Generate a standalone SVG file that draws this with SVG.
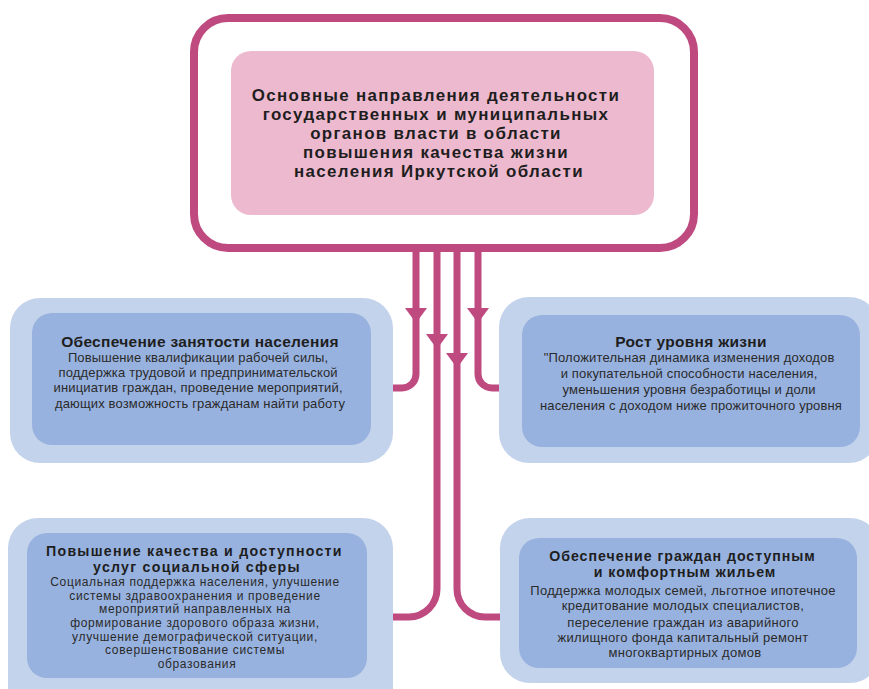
<svg xmlns="http://www.w3.org/2000/svg" xmlns:xlink="http://www.w3.org/1999/xlink" width="869" height="689" viewBox="0 0 869 689">
<defs>
<style>
.outer{fill:#C4D3EC}
.inner{fill:#98B2DF}
.ttl{font-family:"Liberation Sans",Arial,sans-serif;font-weight:bold;fill:#1E1E1E;text-anchor:middle}
.body{font-family:"Liberation Sans",Arial,sans-serif;font-size:13px;letter-spacing:0.15px;fill:#2A2A2A;text-anchor:middle}
.conn{fill:none;stroke:#BE4A80;stroke-width:7}
.ah{fill:#BE4A80}
</style>
<path id="ah" d="M-11,0 L11,0 L0,15 Z"/>
</defs>
<rect width="869" height="689" fill="#FFFFFF"/>
<g id="main">
<rect x="194" y="18" width="500" height="230" rx="34" fill="#FFFFFF" stroke="#BE4A80" stroke-width="8"/>
<rect x="231" y="51" width="423" height="164" rx="20" fill="#EDB9CF"/>
<text class="ttl" font-size="16.9" letter-spacing="1.35">
<tspan x="439" y="101">Основные направления деятельности</tspan>
<tspan x="439" y="120">государственных и муниципальных</tspan>
<tspan x="439" y="139">органов власти в области</tspan>
<tspan x="439" y="158">повышения качества жизни</tspan>
<tspan x="439" y="177">населения Иркутской области</tspan>
</text>
</g>
<g id="connectors">
<path class="conn" d="M416,248 V374 A14,14 0 0 1 402,388 H393"/>
<path class="conn" d="M437,248 V589 A28,28 0 0 1 409,617 H392"/>
<path class="conn" d="M457,248 V589 A28,28 0 0 0 485,617 H501"/>
<path class="conn" d="M478,248 V374 A14,14 0 0 0 492,388 H500"/>
<use xlink:href="#ah" class="ah" x="416" y="308"/>
<use xlink:href="#ah" class="ah" x="437" y="334"/>
<use xlink:href="#ah" class="ah" x="457" y="353"/>
<use xlink:href="#ah" class="ah" x="478" y="308"/>
</g>
<g id="employment">
<rect class="outer" x="10" y="298" width="383" height="165" rx="30"/>
<rect class="inner" x="32" y="313" width="339" height="132" rx="20"/>
<text class="ttl" font-size="15.5" letter-spacing="0.3" x="200" y="347">Обеспечение занятости населения</text>
<text class="body">
<tspan x="200" y="362">Повышение квалификации рабочей силы,</tspan>
<tspan x="200" y="377">поддержка трудовой и предпринимательской</tspan>
<tspan x="200" y="392">инициатив граждан, проведение мероприятий,</tspan>
<tspan x="200" y="408">дающих возможность гражданам найти работу</tspan>
</text>
</g>
<g id="living">
<rect class="outer" x="499" y="297" width="380" height="166" rx="30"/>
<rect class="inner" x="522" y="315" width="338" height="132" rx="20"/>
<text class="ttl" font-size="15.5" letter-spacing="0.3" x="691" y="347">Рост уровня жизни</text>
<text class="body">
<tspan x="691" y="362">"Положительная динамика изменения доходов</tspan>
<tspan x="691" y="378">и покупательной способности населения,</tspan>
<tspan x="691" y="394">уменьшения уровня безработицы и доли</tspan>
<tspan x="691" y="410">населения с доходом ниже прожиточного уровня</tspan>
</text>
</g>
<g id="social">
<rect class="outer" x="8" y="518" width="385" height="200" rx="30"/>
<rect class="inner" x="27" y="533" width="340" height="145" rx="20"/>
<text class="ttl" font-size="14.2" letter-spacing="1.25">
<tspan x="197" y="556">Повышение качества и доступности</tspan>
<tspan x="197" y="572">услуг социальной сферы</tspan>
</text>
<text class="body" style="font-size:12px;letter-spacing:0.65px">
<tspan x="197" y="586">Социальная поддержка населения, улучшение</tspan>
<tspan x="197" y="599.7">системы здравоохранения и проведение</tspan>
<tspan x="197" y="613.3">мероприятий направленных на</tspan>
<tspan x="197" y="627">формирование здорового образа жизни,</tspan>
<tspan x="197" y="640.7">улучшение демографической ситуации,</tspan>
<tspan x="197" y="654.3">совершенствование системы</tspan>
<tspan x="197" y="668">образования</tspan>
</text>
</g>
<g id="housing">
<rect class="outer" x="500" y="518" width="380" height="165" rx="30"/>
<rect class="inner" x="519" y="538" width="338" height="130" rx="20"/>
<text class="ttl" font-size="14.2" letter-spacing="0.95">
<tspan x="685" y="561">Обеспечение граждан доступным</tspan>
<tspan x="685" y="577">и комфортным жильем</tspan>
</text>
<text class="body" style="letter-spacing:0.3px">
<tspan x="685" y="595">Поддержка молодых семей, льготное ипотечное</tspan>
<tspan x="685" y="610">кредитование молодых специалистов,</tspan>
<tspan x="685" y="627">переселение граждан из аварийного</tspan>
<tspan x="685" y="642">жилищного фонда капитальный ремонт</tspan>
<tspan x="685" y="657">многоквартирных домов</tspan>
</text>
</g>
</svg>
